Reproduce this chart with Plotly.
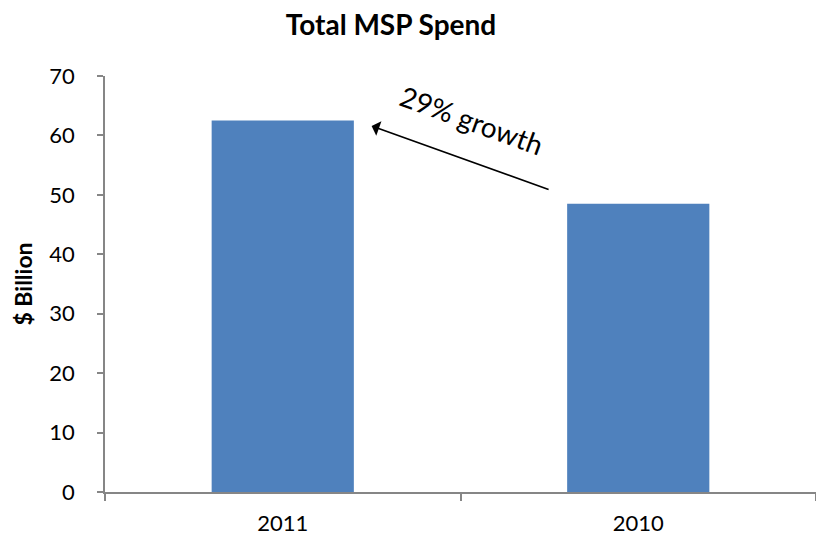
import plotly.graph_objects as go

# Total MSP spend, $ billion
years = ["2011", "2010"]
spend = [62.5, 48.5]
y_ticks = [0, 10, 20, 30, 40, 50, 60, 70]

FONT = "Lato, Calibri, sans-serif"
AXIS_GREY = "#868686"

fig = go.Figure(
    go.Bar(
        x=years,
        y=spend,
        marker=dict(color="#4F81BD", line=dict(width=0)),
        width=0.4,
    )
)

fig.update_layout(
    width=816,
    height=541,
    margin=dict(l=105, r=0, t=76, b=49),
    paper_bgcolor="white",
    plot_bgcolor="white",
    showlegend=False,
    font=dict(family=FONT, color="#000000", size=22),
    title=dict(
        text="<b>Total MSP Spend</b>",
        x=391 / 816,
        xanchor="center",
        y=1 - 25 / 541,
        yanchor="middle",
        font=dict(size=28, family=FONT),
    ),
)

fig.update_xaxes(
    type="category",
    showline=True,
    linecolor=AXIS_GREY,
    linewidth=1.5,
    ticks="outside",
    tickson="boundaries",
    ticklen=7,
    tickcolor=AXIS_GREY,
    tickwidth=1.5,
    showgrid=False,
    ticklabelstandoff=11,
    tickfont=dict(size=22, family=FONT),
)

fig.update_yaxes(
    range=[0, 70],
    tickvals=y_ticks,
    showline=True,
    linecolor=AXIS_GREY,
    linewidth=1.5,
    ticks="outside",
    ticklen=6,
    tickcolor=AXIS_GREY,
    tickwidth=1.5,
    showgrid=False,
    zeroline=False,
    ticklabelstandoff=18,
    tickfont=dict(size=22, family=FONT),
    title=dict(text="<b>$ Billion</b>", font=dict(size=23, family=FONT), standoff=10),
)

# growth arrow from the 2010 bar towards the 2011 bar
fig.add_annotation(
    x=0.25, y=61.6, xref="x", yref="y",
    ax=0.752, ay=50.8, axref="x", ayref="y",
    text="", showarrow=True,
    arrowhead=1, arrowsize=1.6, arrowwidth=1.6, arrowcolor="black",
)
fig.add_annotation(
    x=0.532, y=62.6, xref="x", yref="y",
    text="29% growth", showarrow=False,
    textangle=20,
    font=dict(size=28, family=FONT, color="black"),
)

fig.write_html("out.html")
